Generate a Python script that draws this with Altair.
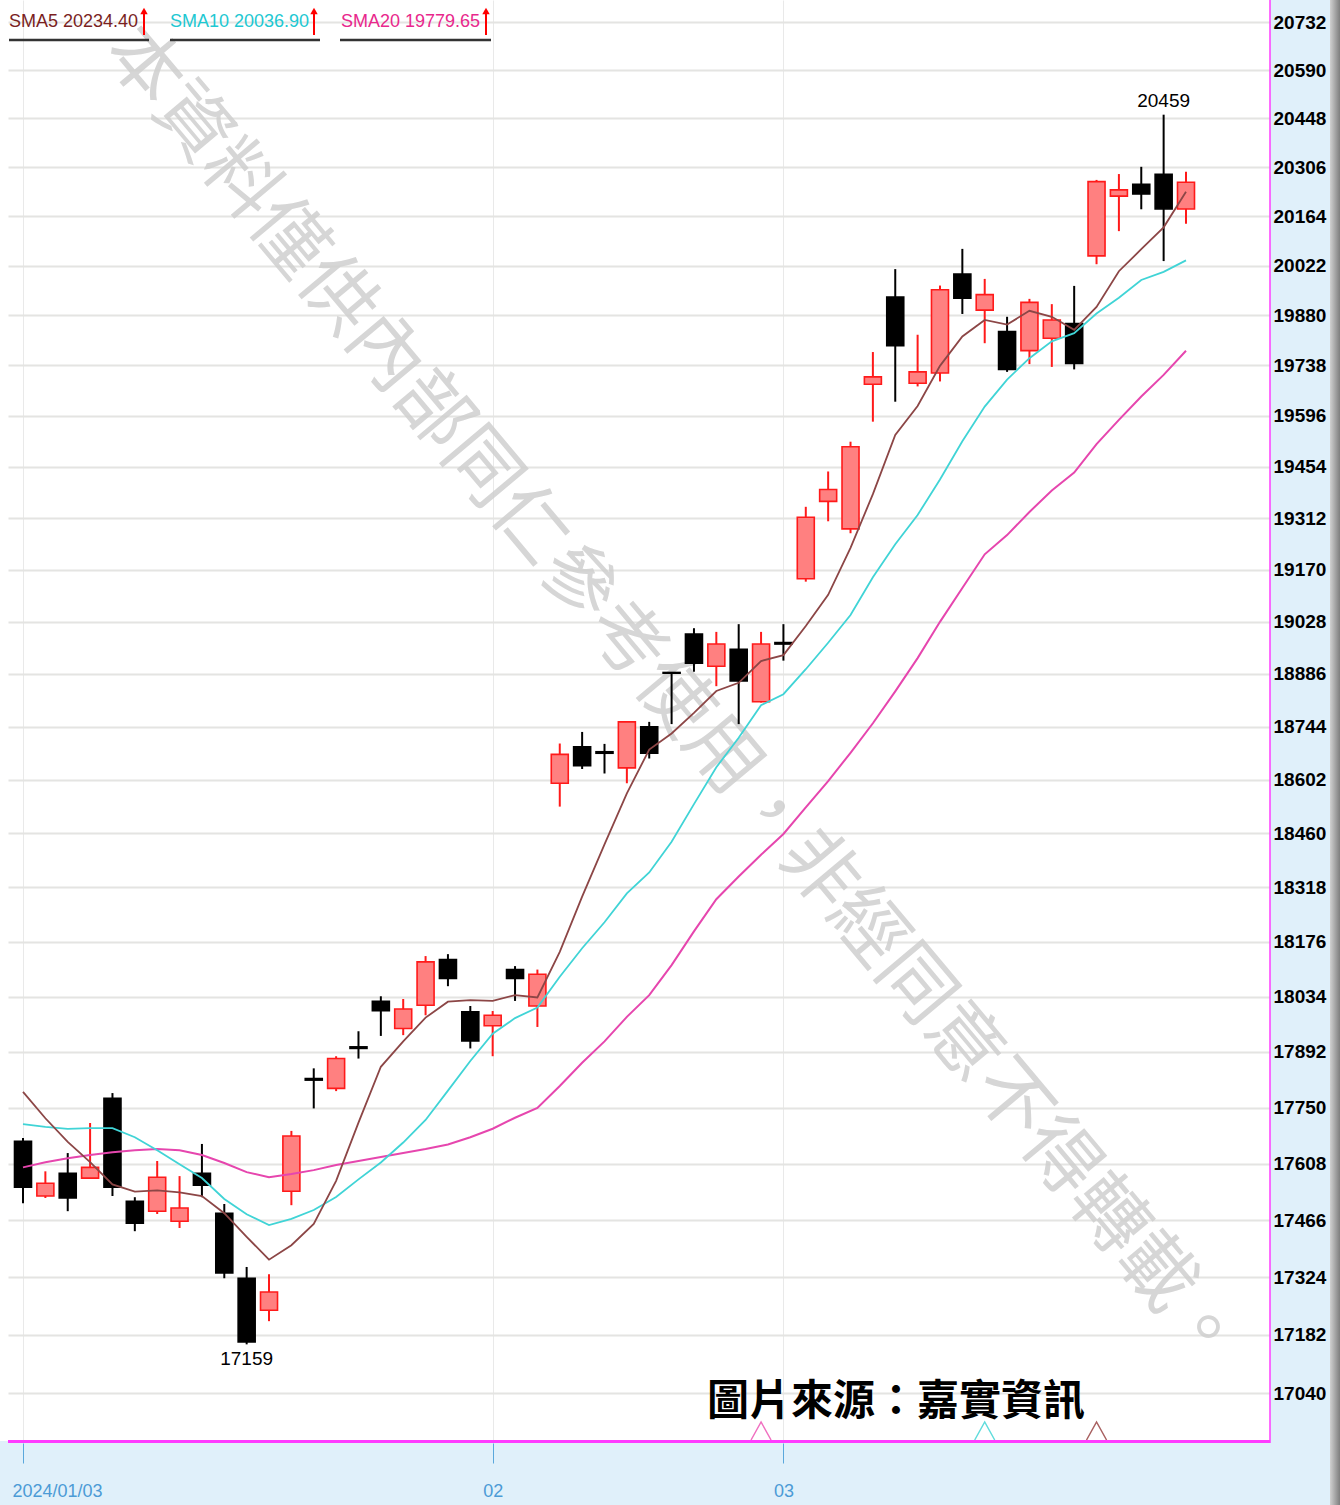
import altair as alt
import pandas as pd

# ---------------- data ----------------
dates = [
    "2024-01-03", "2024-01-04", "2024-01-05", "2024-01-08", "2024-01-09", "2024-01-10", "2024-01-11",
    "2024-01-12", "2024-01-15", "2024-01-16", "2024-01-17", "2024-01-18", "2024-01-19", "2024-01-22",
    "2024-01-23", "2024-01-24", "2024-01-25", "2024-01-26", "2024-01-29", "2024-01-30", "2024-01-31",
    "2024-02-01", "2024-02-02", "2024-02-05", "2024-02-15", "2024-02-16", "2024-02-19", "2024-02-20",
    "2024-02-21", "2024-02-22", "2024-02-23", "2024-02-26", "2024-02-27", "2024-02-29",
    "2024-03-01", "2024-03-04", "2024-03-05", "2024-03-06", "2024-03-07", "2024-03-08", "2024-03-11",
    "2024-03-12", "2024-03-13", "2024-03-14", "2024-03-15", "2024-03-18", "2024-03-19", "2024-03-20",
    "2024-03-21", "2024-03-22", "2024-03-25", "2024-03-26", "2024-03-27",
]
opens = [17665, 17527, 17584, 17572, 17774, 17514, 17489, 17464, 17584, 17484, 17322, 17243, 17539,
         17824, 17799, 17905, 18022, 17952, 18012, 18130, 17995, 17959, 18104, 18010, 18593, 18690,
         18677, 18634, 18744, 18890, 18994, 18907, 18953, 18811, 18971, 19145, 19358, 19282, 19685,
         19932, 19688, 19717, 19998, 19895, 19834, 19780, 19815, 19857, 20050, 20222, 20256, 20285, 20185]
highs = [17673, 17589, 17635, 17711, 17787, 17524, 17615, 17577, 17658, 17507, 17350, 17332, 17691,
         17850, 17881, 17945, 18035, 18028, 18139, 18144, 18010, 17997, 18113, 18104, 18699, 18730,
         18698, 18757, 18757, 18891, 19010, 19000, 19021, 19000, 19021, 19343, 19441, 19524, 19776,
         20012, 19825, 19965, 20070, 19984, 19876, 19927, 19912, 19964, 20269, 20286, 20307, 20459, 20293]
lows = [17509, 17522, 17489, 17570, 17527, 17439, 17482, 17447, 17524, 17322, 17159, 17216, 17504,
        17748, 17792, 17875, 17933, 17935, 17986, 18061, 17901, 17881, 18023, 17956, 18531, 18631,
        18619, 18593, 18659, 18751, 18892, 18853, 18751, 18809, 18922, 19137, 19303, 19270, 19580,
        19636, 19679, 19693, 19884, 19801, 19720, 19742, 19734, 19727, 20026, 20121, 20184, 20035, 20142]
closes = [17549, 17559, 17522, 17599, 17549, 17459, 17574, 17497, 17554, 17335, 17165, 17288, 17678,
          17820, 17875, 17901, 17998, 18002, 18124, 18081, 17920, 17986, 18081, 18092, 18670, 18640,
          18673, 18757, 18673, 18888, 18915, 18967, 18867, 18967, 18967, 19314, 19391, 19510, 19706,
          19794, 19720, 19953, 19929, 19939, 19727, 19917, 19867, 19744, 20264, 20240, 20228, 20185, 20262]
sma5 = [17790, 17723, 17663, 17612, 17556, 17538, 17541, 17536, 17527, 17484, 17425, 17368, 17404,
        17457, 17565, 17712, 17854, 17919, 17980, 18021, 18025, 18023, 18038, 18032, 18150, 18294,
        18431, 18566, 18683, 18726, 18781, 18840, 18862, 18921, 18937, 19016, 19101, 19230, 19378,
        19543, 19624, 19737, 19820, 19867, 19854, 19893, 19876, 19839, 19904, 20006, 20069, 20132, 20234.4]
sma10 = [17708, 17701, 17696, 17698, 17698, 17675, 17642, 17607, 17572, 17519.7, 17481.3, 17454.2,
         17469.8, 17491.9, 17524.5, 17568.7, 17611.1, 17661.6, 17718.6, 17793.2, 17868.7, 17938.5,
         17978.8, 18006.0, 18085.5, 18159.4, 18226.9, 18302.4, 18357.3, 18438.0, 18537.5, 18635.6,
         18714.2, 18801.7, 18831.4, 18898.8, 18970.6, 19045.9, 19149.2, 19239.8, 19320.3, 19418.9,
         19525.1, 19622.3, 19698.3, 19758.6, 19806.2, 19829.6, 19885.4, 19930.0, 19980.8, 20004.0, 20036.9]
sma20 = [17599, 17612, 17622, 17630, 17637, 17642, 17645, 17642, 17630, 17610, 17587, 17574, 17582,
         17592, 17605, 17615, 17625, 17635, 17645, 17656.5, 17675.0, 17696.4, 17724.3, 17749.0, 17805.0,
         17864.1, 17919.0, 17982.0, 18038.0, 18115.6, 18203.1, 18287.1, 18346.5, 18403.9, 18458.5,
         18529.1, 18598.8, 18674.2, 18753.3, 18838.9, 18928.9, 19027.3, 19119.7, 19212.0, 19264.9,
         19328.7, 19388.4, 19437.8, 19517.3, 19584.9, 19650.6, 19711.5, 19779.65]

y_ticks = [17040, 17182, 17324, 17466, 17608, 17750, 17892, 18034, 18176, 18318, 18460, 18602, 18744,
           18886, 19028, 19170, 19312, 19454, 19596, 19738, 19880, 20022, 20164, 20306, 20448, 20590, 20732]
x_tick_idx = [0, 21, 34]
x_tick_labels = ["2024/01/03", "02", "03"]

signal_idx = [33, 43, 48]
signal_names = ["SMA20", "SMA10", "SMA5"]

legend_texts = ["SMA5 20234.40", "SMA10 20036.90", "SMA20 19779.65"]
watermark = "本資料僅供內部同仁參考使用，非經同意不得轉載。"
source_text = "圖片來源：嘉實資訊"

# ---------------- frames ----------------
df = pd.DataFrame({
    "date": dates, "i": list(range(len(dates))),
    "open": opens, "high": highs, "low": lows, "close": closes,
    "sma5": sma5, "sma10": sma10, "sma20": sma20,
})
df["dir"] = ["up" if c >= o else "down" for o, c in zip(opens, closes)]

imax = max(range(len(highs)), key=lambda k: highs[k])
imin = min(range(len(lows)), key=lambda k: lows[k])
df_hi = pd.DataFrame({"i": [imax], "v": [highs[imax]], "t": [str(highs[imax])]})
df_lo = pd.DataFrame({"i": [imin], "v": [lows[imin]], "t": [str(lows[imin])]})

# ---------------- style ----------------
W, H = 1262, 1441
SANS = "Liberation Sans"
C5, C10, C20 = "#8C4646", "#40D4D6", "#E646AE"
sig_colors = {"SMA20": "#F070C0", "SMA10": "#60DCDC", "SMA5": "#A86060"}
df_sig = pd.DataFrame({"i": signal_idx, "name": signal_names,
                       "c": [sig_colors[n] for n in signal_names]})

px = 1163 / 52.0
x0 = -15 / px
xs = alt.Scale(domain=[x0, x0 + W / px], nice=False, zero=False, padding=0)
ys = alt.Scale(type="log", domain=[16923.4, 20797.4], nice=False, zero=False, padding=0)

label_expr = " : ".join(f"datum.value == {i} ? '{t}'" for i, t in zip(x_tick_idx, x_tick_labels)) + " : ''"

x_axis = alt.Axis(
    values=x_tick_idx, labelExpr=label_expr, title=None, grid=True, gridColor="#E9E9E9", gridWidth=1,
    domain=False, ticks=True, tickSize=20, tickColor="#5AA8DC", tickWidth=1, offset=2,
    labelColor="#4C9BD6", labelFont=SANS, labelFontSize=18, labelPadding=19,
    labelAlign={"condition": {"test": "datum.value == 0", "value": "left"}, "value": "center"},
    labelOffset={"condition": {"test": "datum.value == 0", "value": -11}, "value": 0},
    labelFlush=False, labelOverlap=False,
)
y_axis = alt.Axis(
    orient="right", values=y_ticks, format="d", title=None, grid=True, gridColor="#E4E4E2",
    gridWidth=2, ticks=False, domain=False, labelColor="#000000", labelFont=SANS,
    labelFontSize=19, labelFontWeight="bold", labelPadding=3, labelOverlap=False,
)

def X(field):
    return alt.X(field, scale=xs, axis=x_axis)

def Y(field):
    return alt.Y(field, scale=ys, axis=y_axis)

base = alt.Chart(df)

# watermark
wm = alt.Chart(pd.DataFrame({"t": [watermark]})).mark_text(
    angle=50, fontSize=75, font="Noto Sans CJK TC", color="#CFCFCF", opacity=0.85,
    align="center", baseline="middle"
).encode(x=alt.value(666), y=alt.value(698), text="t:N")

one = pd.DataFrame({"a": [0]})
left_white = alt.Chart(one).mark_rect(color="white").encode(
    x=alt.value(-8), x2=alt.value(0), y=alt.value(0), y2=alt.value(H))

wicks = base.mark_rule(strokeWidth=2).encode(
    x=X("i:Q"), y=Y("low:Q"), y2="high:Q",
    color=alt.Color("dir:N", scale=alt.Scale(domain=["up", "down"], range=["#FF1A1A", "#000000"]), legend=None),
)

bodies = base.mark_bar(size=17, strokeWidth=1.6).encode(
    x=X("i:Q"), y=Y("open:Q"), y2="close:Q",
    fill=alt.Fill("dir:N", scale=alt.Scale(domain=["up", "down"], range=["#FF8080", "#000000"]), legend=None),
    stroke=alt.Stroke("dir:N", scale=alt.Scale(domain=["up", "down"], range=["#FF1A1A", "#000000"]), legend=None),
)

def sma_line(field, color, w):
    return base.mark_line(color=color, strokeWidth=w).encode(x=X("i:Q"), y=Y(f"{field}:Q"))

l20 = sma_line("sma20", C20, 2.0)
l10 = sma_line("sma10", C10, 1.8)
l5 = sma_line("sma5", C5, 1.8)

sig = alt.Chart(df_sig).mark_point(
    shape="M-1,0.9L0,-0.9L1,0.9", filled=False, size=400, strokeWidth=1.5, opacity=1
).encode(x=X("i:Q"), y=alt.value(1431), stroke=alt.Stroke("c:N", scale=None))

hi_t = alt.Chart(df_hi).mark_text(font=SANS, fontSize=19, color="black", baseline="bottom", dy=-4).encode(
    x=X("i:Q"), y=Y("v:Q"), text="t:N")
lo_t = alt.Chart(df_lo).mark_text(font=SANS, fontSize=19, color="black", baseline="top", dy=6).encode(
    x=X("i:Q"), y=Y("v:Q"), text="t:N")

# legend (top-left): text + red arrow (shaft + head) + underline
leg_layers = []
leg_colors = ["#7A1F1F", "#1EC8D2", "#E8288C"]
leg_x = [1, 162, 333]
arrow_x = [136, 306, 478]
ul = [(1, 141), (162, 312), (332, 483)]
for t, c, lx, ax, (u1, u2) in zip(legend_texts, leg_colors, leg_x, arrow_x, ul):
    leg_layers.append(alt.Chart(one).mark_text(
        text=t, font=SANS, fontSize=18, color=c, align="left", baseline="middle"
    ).encode(x=alt.value(lx), y=alt.value(22)))
    leg_layers.append(alt.Chart(one).mark_rule(color="#FF0000", strokeWidth=2).encode(
        x=alt.value(ax), y=alt.value(12), y2=alt.value(35)))
    leg_layers.append(alt.Chart(one).mark_point(
        shape="triangle-up", filled=True, size=55, color="#FF0000", opacity=1
    ).encode(x=alt.value(ax), y=alt.value(11)))
    leg_layers.append(alt.Chart(one).mark_rule(color="#333333", strokeWidth=2.5).encode(
        x=alt.value(u1), x2=alt.value(u2), y=alt.value(40)))

src = alt.Chart(pd.DataFrame({"t": [source_text]})).mark_text(
    font="Noto Sans CJK TC", fontSize=42, fontWeight="bold", color="#000000",
    align="left", baseline="middle"
).encode(x=alt.value(699), y=alt.value(1402), text="t:N")

frame_h = alt.Chart(one).mark_rule(color="#FF3CFF", strokeWidth=3).encode(
    x=alt.value(0), x2=alt.value(W), y=alt.value(H + 0.5))
frame_v = alt.Chart(one).mark_rule(color="#FF3CFF", strokeWidth=1.5).encode(
    x=alt.value(W), y=alt.value(0), y2=alt.value(H + 2))
shadow = alt.Chart(one).mark_rect(
    color={"gradient": "linear", "x1": 0, "x2": 1, "y1": 0, "y2": 0,
           "stops": [{"offset": 0, "color": "#D0D0D0"}, {"offset": 1, "color": "#7E7E7E"}]}
).encode(x=alt.value(1322), x2=alt.value(1332), y=alt.value(0), y2=alt.value(1505))

chart = alt.layer(
    left_white, wm, wicks, bodies, l20, l10, l5, sig, hi_t, lo_t, src, frame_h, frame_v, shadow,
    *leg_layers
).properties(
    width=W, height=H,
    padding={"left": 8, "top": 0, "right": 70, "bottom": 64},
    autosize=alt.AutoSizeParams(type="none"),
    background="#E0F0FA",
).configure_view(stroke=None, fill="white")

chart.save("out.html", embed_options={"renderer": "svg", "actions": False})
